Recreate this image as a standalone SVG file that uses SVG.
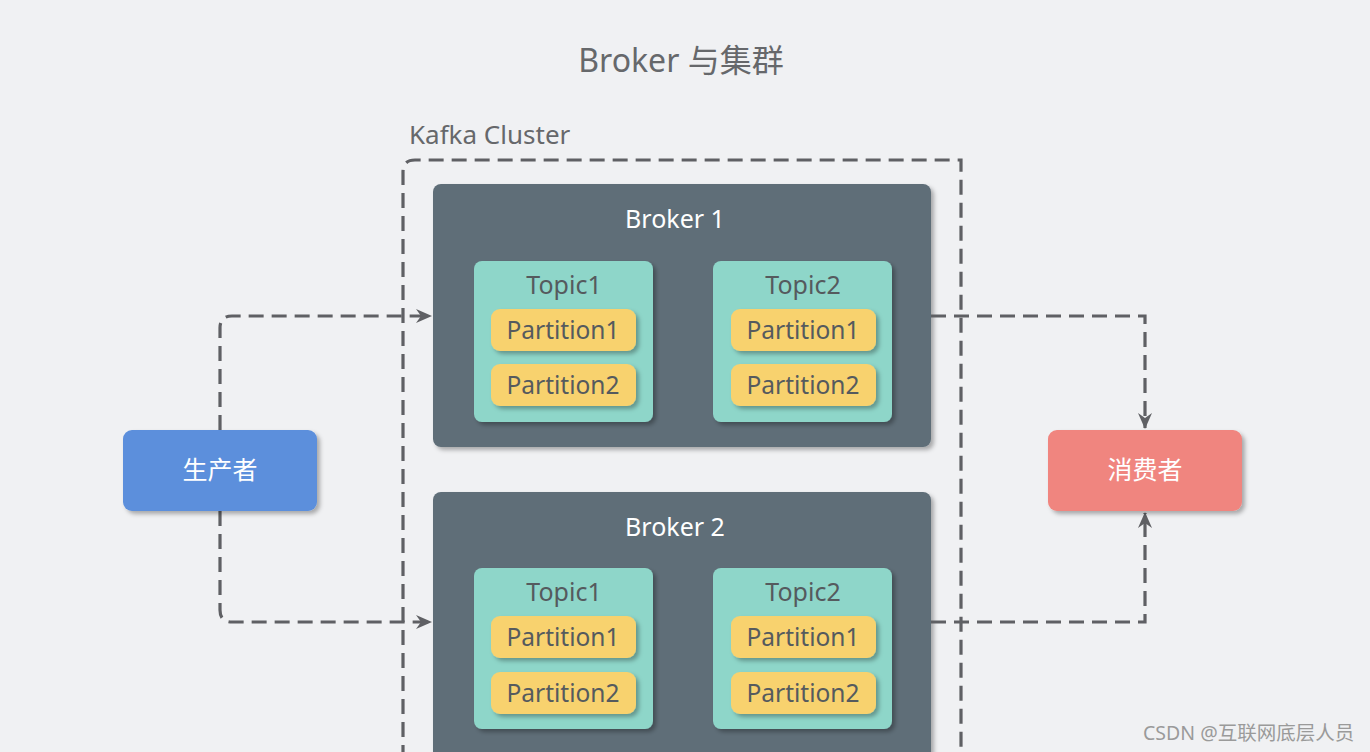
<svg xmlns="http://www.w3.org/2000/svg" width="1370" height="752" viewBox="0 0 1370 752">
<defs>
<filter id="sh" x="-10%" y="-10%" width="130%" height="130%">
<feDropShadow dx="3" dy="3" stdDeviation="2" flood-color="#000" flood-opacity="0.3"/>
</filter>
<marker id="arr" viewBox="0 0 16 14" refX="15" refY="7" markerWidth="16" markerHeight="14" markerUnits="userSpaceOnUse" orient="auto">
<path d="M0,0 L16,7 L0,14 L5,7 Z" fill="#5f6064"/>
</marker>
<style>
.t{font-family:"Noto Sans","Liberation Sans","Noto Sans CJK SC",sans-serif;}
.broker{fill:#5f6e78;filter:url(#sh);}
.topic{fill:#8ed6c9;filter:url(#sh);}
.part{fill:#f8d26e;filter:url(#sh);}
.bl{font-size:25px;fill:#ffffff;text-anchor:middle;}
.tl{font-size:25px;fill:#555a5e;text-anchor:middle;}
.pl{font-size:24.5px;fill:#555a5e;text-anchor:middle;}
.dash{fill:none;stroke:#5f6064;stroke-width:3.2;stroke-dasharray:15 8;}
</style>
</defs>
<rect width="1370" height="752" fill="#f0f1f3"/>
<text class="t" x="681" y="72" font-size="32" fill="#66686b" text-anchor="middle">Broker 与集群</text>
<g id="cluster">
<text class="t" x="409" y="144" font-size="26" fill="#66686b">Kafka Cluster</text>
<path class="dash" d="M403,760 L403,172 Q403,160 415,160 L961,160 L961,760"/>
</g>
<g id="broker1">
<rect class="broker" x="433" y="184" width="498" height="263" rx="8"/>
<text class="t bl" x="675" y="228">Broker 1</text>
<g id="b1t1">
<rect class="topic" x="474" y="261" width="179" height="161" rx="8"/>
<text class="t tl" x="564" y="294">Topic1</text>
<rect class="part" x="491" y="309" width="145" height="42" rx="9"/>
<text class="t pl" x="563" y="339">Partition1</text>
<rect class="part" x="491" y="364" width="145" height="42" rx="9"/>
<text class="t pl" x="563" y="394">Partition2</text>
</g>
<g id="b1t2">
<rect class="topic" x="713" y="261" width="179" height="161" rx="8"/>
<text class="t tl" x="803" y="294">Topic2</text>
<rect class="part" x="731" y="309" width="145" height="42" rx="9"/>
<text class="t pl" x="803" y="339">Partition1</text>
<rect class="part" x="731" y="364" width="145" height="42" rx="9"/>
<text class="t pl" x="803" y="394">Partition2</text>
</g>
</g>
<g id="broker2">
<rect class="broker" x="433" y="492" width="498" height="280" rx="8"/>
<text class="t bl" x="675" y="536">Broker 2</text>
<g id="b2t1">
<rect class="topic" x="474" y="568" width="179" height="161" rx="8"/>
<text class="t tl" x="564" y="601">Topic1</text>
<rect class="part" x="491" y="616" width="145" height="42" rx="9"/>
<text class="t pl" x="563" y="646">Partition1</text>
<rect class="part" x="491" y="672" width="145" height="42" rx="9"/>
<text class="t pl" x="563" y="702">Partition2</text>
</g>
<g id="b2t2">
<rect class="topic" x="713" y="568" width="179" height="161" rx="8"/>
<text class="t tl" x="803" y="601">Topic2</text>
<rect class="part" x="731" y="616" width="145" height="42" rx="9"/>
<text class="t pl" x="803" y="646">Partition1</text>
<rect class="part" x="731" y="672" width="145" height="42" rx="9"/>
<text class="t pl" x="803" y="702">Partition2</text>
</g>
</g>
<g id="connectors">
<path class="dash" d="M220,430 L220,328 Q220,316 232,316 L431,316" marker-end="url(#arr)"/>
<path class="dash" d="M220,511 L220,610 Q220,622 232,622 L431,622" marker-end="url(#arr)"/>
<path class="dash" d="M931,316 L1145,316 L1145,428" marker-end="url(#arr)"/>
<path class="dash" d="M931,622 L1145,622 L1145,513" marker-end="url(#arr)"/>
</g>
<g id="producer">
<rect x="123" y="430" width="194" height="81" rx="9" fill="#5b8fdc" filter="url(#sh)"/>
<text class="t" x="220" y="479" font-size="25" fill="#ffffff" text-anchor="middle">生产者</text>
</g>
<g id="consumer">
<rect x="1048" y="430" width="194" height="81" rx="9" fill="#f0857f" filter="url(#sh)"/>
<text class="t" x="1145" y="479" font-size="25" fill="#ffffff" text-anchor="middle">消费者</text>
</g>
<text class="t" x="1143" y="740" font-size="19.5" fill="#9a9a9a">CSDN @互联网底层人员</text>
</svg>
